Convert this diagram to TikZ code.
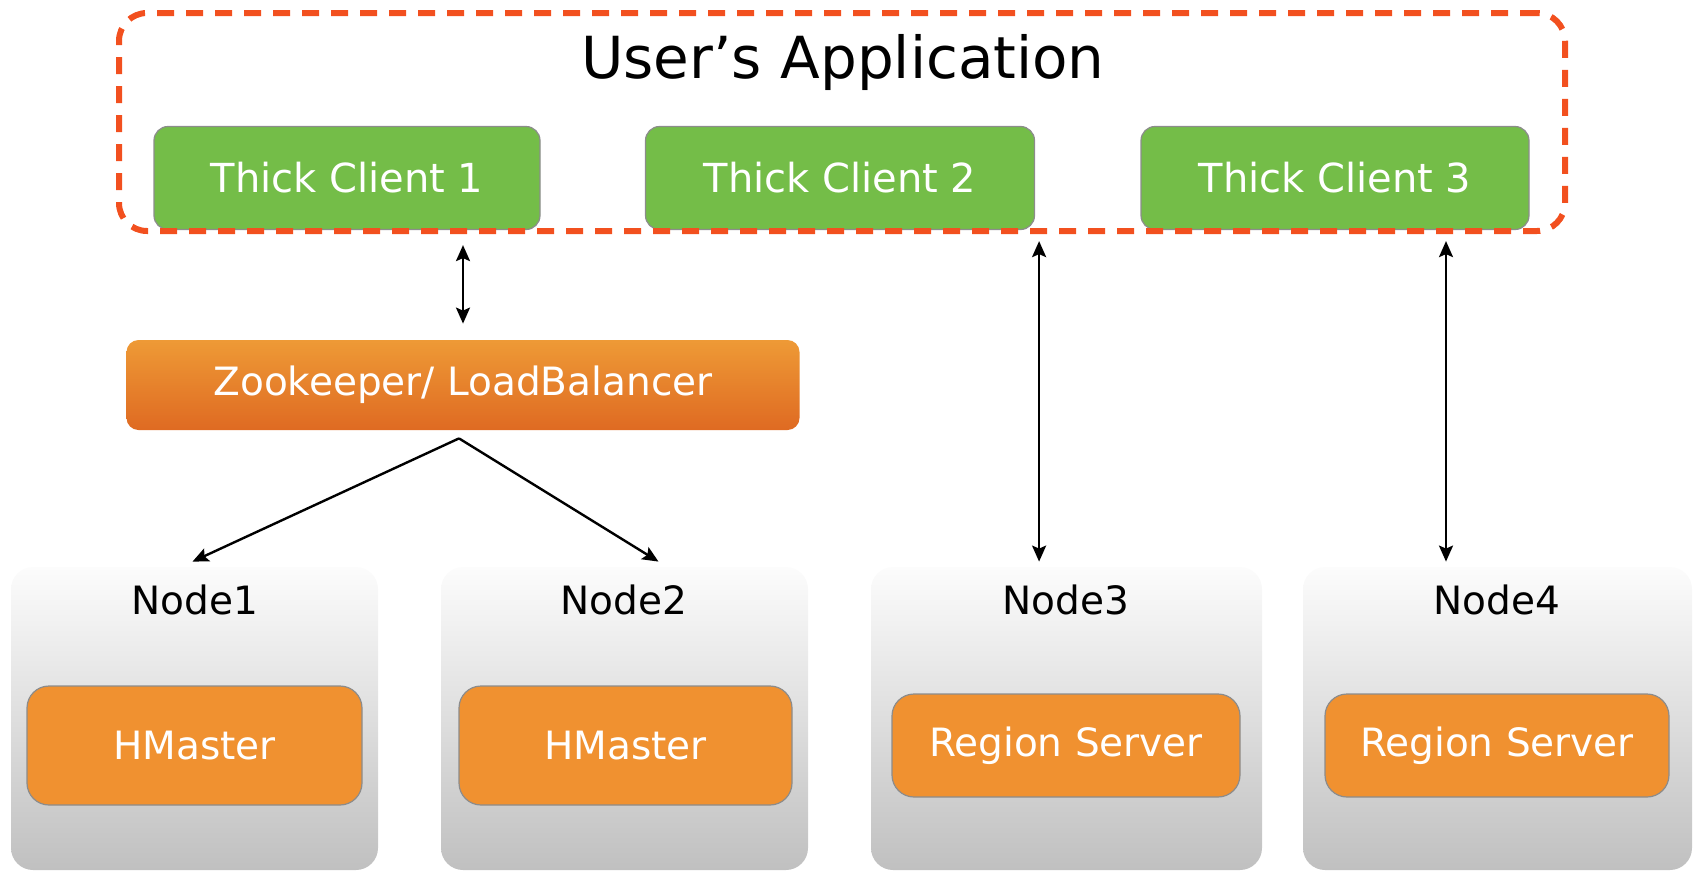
\documentclass[tikz,border=0pt]{standalone}
\usepackage{fontspec}
\setmainfont{DejaVu Sans}
\usetikzlibrary{arrows.meta,calc}

\definecolor{appdash}{HTML}{F2501F}
\definecolor{clientgreen}{HTML}{74BD48}
\definecolor{boxline}{HTML}{8C8C8C}
\definecolor{zktop}{HTML}{EE9A36}
\definecolor{zkbottom}{HTML}{DF6A22}
\definecolor{serverorange}{HTML}{F09130}
\definecolor{hosttop}{HTML}{FCFCFC}
\definecolor{hostbottom}{HTML}{C0C0C0}

\begin{document}
\begin{tikzpicture}[x=0.5pt,y=-0.5pt,
  >={Stealth[length=8pt,width=7pt,inset=1.5pt]},
  clientbox/.style={draw=boxline, line width=0.6pt, fill=clientgreen,
    rounded corners=7pt, minimum height=51.5pt, text=white,
    font=\fontsize{20}{24}\selectfont},
  zkbox/.style={rounded corners=6pt, top color=zktop, bottom color=zkbottom,
    minimum width=336.5pt, minimum height=45pt, text=white,
    font=\fontsize{19.5}{24}\selectfont},
  hostbox/.style={rounded corners=11pt, top color=hosttop, bottom color=hostbottom,
    minimum height=151.5pt},
  hostlabel/.style={text=black, font=\fontsize{19.5}{24}\selectfont},
  serverbox/.style={draw=boxline, line width=0.6pt, fill=serverorange,
    rounded corners=11pt, text=white, font=\fontsize{19.5}{24}\selectfont},
  appbox/.style={draw=appdash, line width=3pt, dash pattern=on 8.5pt off 6pt,
    rounded corners=14pt, minimum width=723pt, minimum height=109pt},
  conn/.style={line width=1.2pt, draw=black}
]
\useasboundingbox (0,0) rectangle (1694,873);

% client tier
\node[clientbox, minimum width=193pt] (c1) at (347,178) {Thick Client 1};
\node[clientbox, minimum width=194.5pt] (c2) at (840,178) {Thick Client 2};
\node[clientbox, minimum width=194pt] (c3) at (1335,178) {Thick Client 3};

% application boundary and its title
\node[appbox] (app) at (842,122) {};
\node[font=\fontsize{29}{34}\selectfont] (title) at (843,62) {User’s Application};

% coordination layer
\node[zkbox] (zk) at (463,385) {Zookeeper/ LoadBalancer};

% cluster hosts
\node[hostbox, minimum width=183.5pt] (n1) at (194.5,718.5) {};
\node[hostbox, minimum width=183.5pt] (n2) at (624.5,718.5) {};
\node[hostbox, minimum width=195.5pt] (n3) at (1066.5,718.5) {};
\node[hostbox, minimum width=194.5pt] (n4) at (1497.5,718.5) {};

\node[hostlabel] (l1) at (195,600) {Node1};
\node[hostlabel] (l2) at (624,600) {Node2};
\node[hostlabel] (l3) at (1066,600) {Node3};
\node[hostlabel] (l4) at (1497,600) {Node4};

% services running on the hosts
\node[serverbox, minimum width=167.5pt, minimum height=59.5pt] (h1) at (194.5,745.5) {HMaster};
\node[serverbox, minimum width=166.5pt, minimum height=59.5pt] (h2) at (625.5,745.5) {HMaster};
\node[serverbox, minimum width=174pt, minimum height=51.5pt] (r3) at (1066,745.5) {Region Server};
\node[serverbox, minimum width=172pt, minimum height=51.5pt] (r4) at (1497,745.5) {Region Server};

% connectors
\draw[conn, <->] ($(zk.north |- c1.south)+(0,15)$) -- ($(zk.north)+(0,-16)$);
\draw[conn, <->] ($(c2.south east)+(4,11)$) -- ($(n3.north -| c2.south east)+(4,-5)$);
\draw[conn, <->] ($(c3.south)+(111,11)$) -- ($(n4.north -| c3.south)+(111,-5)$);
\draw[conn, ->] ($(zk.south)+(-4,8)$) -- ($(n1.north)+(-2,-5)$);
\draw[conn, ->] ($(zk.south)+(-4,8)$) -- ($(n2.north)+(34,-5)$);
\end{tikzpicture}
\end{document}
